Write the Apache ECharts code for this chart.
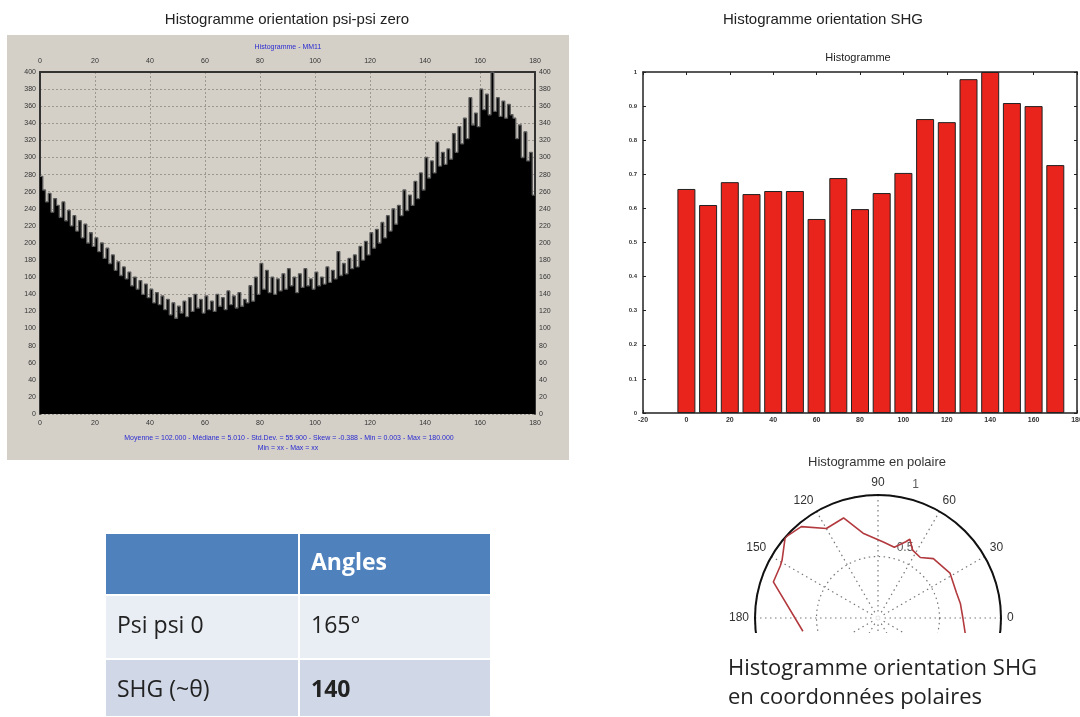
<!DOCTYPE html>
<html><head><meta charset="utf-8">
<script src="https://cdn.jsdelivr.net/npm/echarts@6/dist/echarts.min.js"></script>
<style>
html,body{margin:0;padding:0;background:#fff;width:1080px;height:717px;overflow:hidden;}
#panel{position:absolute;left:7px;top:35px;width:562px;height:425px;background:#d4d0c8;}
#c{position:absolute;left:0;top:0;width:1080px;height:717px;}
#tbl{position:absolute;left:106px;top:534px;width:384px;border-collapse:separate;border-spacing:0;
 font-family:"Open Sans","Noto Sans",sans-serif;font-size:23px;color:#222;}
#tbl td,#tbl th{width:192px;padding:0 0 0 11px;text-align:left;box-sizing:border-box;line-height:1;}
#tbl th{background:#4f81bd;color:#fff;font-weight:bold;height:62px;font-size:23px;border-bottom:2px solid #fff;padding-bottom:6px;}
#tbl th+th,#tbl td+td{border-left:2px solid #fff;}
#tbl tr.r0 td{background:#e9edf4;height:64px;border-bottom:2px solid #fff;padding-bottom:6px;}
#tbl tr.r1 td{background:#d0d8e8;height:56px;}
</style></head><body>
<div id="panel"></div>
<div id="c"></div>
<table id="tbl"></table>
<script>
// ---- Left histogram (psi-psi zero), counts per 1-degree bin, 0..179
const psiCounts = [
278,262,248,258,236,252,244,230,248,226,
238,220,232,214,226,206,222,200,212,196,
206,190,200,182,194,176,186,168,178,162,
172,158,166,150,160,146,156,140,152,136,
146,130,142,128,138,122,134,116,130,112,
126,118,132,114,136,120,140,124,134,118,
138,122,132,120,140,126,136,122,144,128,
138,124,142,126,134,130,150,132,160,140,
176,146,168,142,160,140,158,144,164,146,
170,150,160,142,164,148,170,150,158,146,
166,150,160,152,172,154,168,158,190,162,
176,164,182,170,186,172,196,180,202,186,
212,194,216,200,224,206,232,214,240,222,
244,232,262,238,256,244,272,252,282,262,
300,276,296,282,318,290,306,292,310,298,
328,306,336,316,346,322,370,338,352,336,
380,356,374,350,400,354,370,348,366,346,
362,350,346,322,338,300,330,296,306,256
];
const psiStats1 = "Moyenne = 102.000 - Médiane = 5.010 - Std.Dev. = 55.900 - Skew = -0.388 - Min = 0.003 - Max = 180.000";
const psiStats2 = "Min = xx - Max = xx";

// ---- Right bar histogram (SHG)
const shgAngles = [0,10,20,30,40,50,60,70,80,90,100,110,120,130,140,150,160,170];
const shgValues = [0.657,0.61,0.677,0.642,0.651,0.651,0.569,0.689,0.598,0.645,0.704,0.862,0.853,0.979,1.0,0.909,0.90,0.727];

// ---- Polar curve (angle in degrees, radius)
const polarAngles = [350,0,10,18,32,47,55,63,68,70,77,86,100,109,120,130,139,149,152,161,190];
const polarRadii  = [0.72,0.69,0.68,0.67,0.69,0.66,0.60,0.62,0.69,0.66,0.59,0.62,0.70,0.86,0.84,0.97,1.0,0.91,0.90,0.90,0.62];

// ---- Table
const tableHeader = ['', 'Angles'];
const tableRowLabels = ['Psi psi 0', 'SHG (~θ)'];
const tableRowValues = ['165°', '140'];

(function(){
  const t = document.getElementById('tbl');
  let h = '<tr>' + tableHeader.map(s=>'<th>'+s+'</th>').join('') + '</tr>';
  tableRowLabels.forEach((lab,i)=>{
    const v = i===1 ? '<b>'+tableRowValues[i]+'</b>' : tableRowValues[i];
    h += '<tr class="r'+i+'"><td>'+lab+'</td><td>'+v+'</td></tr>';
  });
  t.innerHTML = h;
})();

const FF = '"Liberation Sans", Arial, sans-serif';
const stepData = psiCounts.map((v,i)=>[i,v]);
stepData.push([180, psiCounts[psiCounts.length-1]]);

const leftGrid = {left:40, top:72, width:495, height:342};
const rightGrid = {left:643, top:72, width:434, height:341};

const dashed = {show:true, lineStyle:{color:'#9c988f', type:[2,2], width:1}};
const smallLab = {fontSize:7, color:'#333', fontFamily:FF};

const chart = echarts.init(document.getElementById('c'), null, {renderer:'canvas'});
chart.setOption({
  animation:false,
  backgroundColor:'transparent',
  grid:[
    Object.assign({containLabel:false, outerBoundsMode:'none'}, leftGrid),
    Object.assign({containLabel:false, outerBoundsMode:'none'}, rightGrid)
  ],
  polar:{center:[878,618], radius:123},
  angleAxis:{
    type:'value', min:0, max:360, interval:30, startAngle:0, clockwise:false,
    axisLine:{lineStyle:{color:'#111', width:2}},
    axisTick:{show:false},
    axisLabel:{fontSize:12, color:'#333', fontFamily:FF, margin:6,
      formatter:v=> v<=180 ? String(v) : ''},
    splitLine:{show:true, lineStyle:{color:'#777', type:[1.5,3.5], width:1.2}}
  },
  radiusAxis:{
    type:'value', min:0, max:1, interval:0.5,
    axisLine:{show:false}, axisTick:{show:false}, axisLabel:{show:false},
    splitLine:{show:true, lineStyle:{color:'#777', type:[1.5,3.5], width:1.2}}
  },
  xAxis:[
    {gridIndex:0, type:'value', min:0, max:180, interval:20, position:'bottom',
     axisLine:{show:false}, axisTick:{show:false},
     axisLabel:Object.assign({margin:6}, smallLab), splitLine:dashed},
    {gridIndex:0, type:'value', min:0, max:180, interval:20, position:'top',
     axisLine:{show:true, onZero:false, lineStyle:{color:'#333', width:2}}, axisTick:{show:false},
     axisLabel:Object.assign({margin:7}, smallLab), splitLine:{show:false}},
    {gridIndex:1, type:'value', min:-20, max:180, interval:20, position:'bottom',
     axisLine:{show:true, onZero:false, lineStyle:{color:'#222', width:1.5}},
     axisTick:{show:true, inside:true, length:3, lineStyle:{color:'#222'}},
     axisLabel:{fontSize:7, fontWeight:'bold', color:'#333', fontFamily:FF, margin:4},
     splitLine:{show:false}},
    {gridIndex:1, type:'value', min:-20, max:180, interval:20, position:'top',
     axisLine:{show:true, onZero:false, lineStyle:{color:'#222', width:1.5}},
     axisTick:{show:true, inside:true, length:3, lineStyle:{color:'#222'}},
     axisLabel:{show:false}, splitLine:{show:false}}
  ],
  yAxis:[
    {gridIndex:0, type:'value', min:0, max:400, interval:20, position:'left',
     axisLine:{show:true, onZero:false, lineStyle:{color:'#333', width:2}}, axisTick:{show:false},
     axisLabel:Object.assign({margin:4}, smallLab), splitLine:dashed},
    {gridIndex:0, type:'value', min:0, max:400, interval:20, position:'right',
     axisLine:{show:true, onZero:false, lineStyle:{color:'#333', width:2}}, axisTick:{show:false},
     axisLabel:Object.assign({margin:4}, smallLab), splitLine:{show:false}},
    {gridIndex:1, type:'value', min:0, max:1, interval:0.1, position:'left',
     axisLine:{show:true, onZero:false, lineStyle:{color:'#222', width:1.5}},
     axisTick:{show:true, inside:true, length:3, lineStyle:{color:'#222'}},
     axisLabel:{fontSize:6, fontWeight:'bold', color:'#333', fontFamily:FF, margin:6},
     splitLine:{show:false}},
    {gridIndex:1, type:'value', min:0, max:1, interval:0.1, position:'right',
     axisLine:{show:true, onZero:false, lineStyle:{color:'#222', width:1.5}},
     axisTick:{show:true, inside:true, length:3, lineStyle:{color:'#222'}},
     axisLabel:{show:false}, splitLine:{show:false}}
  ],
  series:[
    {type:'line', xAxisIndex:0, yAxisIndex:0, data:stepData, step:'end', symbol:'none',
     lineStyle:{color:'#5a5a5a', width:1.3}, areaStyle:{color:'#000', opacity:1}, z:3},
    {type:'bar', xAxisIndex:2, yAxisIndex:2, barWidth:18,
     data:shgAngles.map((a,i)=>[a, shgValues[i]]),
     itemStyle:{color:'#e8241c', borderColor:'#222', borderWidth:1}},
    {type:'line', coordinateSystem:'polar', symbol:'none',
     data:polarAngles.map((a,i)=>[polarRadii[i], a]),
     lineStyle:{color:'#b23a3e', width:1.6}},
    {type:'scatter', coordinateSystem:'polar', symbolSize:0,
     data:[
       {value:[0.5,80], label:{offset:[3,-10]}},
       {value:[1,80], label:{offset:[8,-12]}}
     ],
     label:{show:true, position:'right', fontSize:12, color:'#333', fontFamily:FF,
       formatter:p=> String(p.value[0])}},
    {type:'scatter', coordinateSystem:'polar', symbol:'emptyCircle', symbolSize:7,
     itemStyle:{color:'#fff', borderColor:'#888', borderWidth:1}, data:[[0,0]]}
  ],
  graphic:[
    {type:'rect', shape:{x:735, y:633, width:300, height:84}, style:{fill:'#fff'}, z:100},
    {type:'text', x:287, y:20, style:{text:'Histogramme orientation psi-psi zero', font:'15px '+FF, fill:'#222', textAlign:'center', textVerticalAlign:'middle'}, z:101},
    {type:'text', x:823, y:20, style:{text:'Histogramme orientation SHG', font:'15px '+FF, fill:'#222', textAlign:'center', textVerticalAlign:'middle'}, z:101},
    {type:'text', x:288, y:47, style:{text:'Histogramme - MM11', font:'7px '+FF, fill:'#2a2ad0', textAlign:'center', textVerticalAlign:'middle'}, z:101},
    {type:'text', x:289, y:438, style:{text:psiStats1, font:'7px '+FF, fill:'#2a2ad0', textAlign:'center', textVerticalAlign:'middle'}, z:101},
    {type:'text', x:288, y:448, style:{text:psiStats2, font:'7px '+FF, fill:'#2a2ad0', textAlign:'center', textVerticalAlign:'middle'}, z:101},
    {type:'text', x:858, y:58, style:{text:'Histogramme', font:'11px '+FF, fill:'#222', textAlign:'center', textVerticalAlign:'middle'}, z:101},
    {type:'text', x:877, y:462, style:{text:'Histogramme en polaire', font:'13px '+FF, fill:'#333', textAlign:'center', textVerticalAlign:'middle'}, z:101},
    {type:'text', x:728, y:669, style:{text:'Histogramme orientation SHG', font:'22px "Open Sans", sans-serif', fill:'#222', textAlign:'left', textVerticalAlign:'middle'}, z:101},
    {type:'text', x:728, y:698, style:{text:'en coordonnées polaires', font:'22px "Open Sans", sans-serif', fill:'#222', textAlign:'left', textVerticalAlign:'middle'}, z:101}
  ]
});
</script>
</body></html>
